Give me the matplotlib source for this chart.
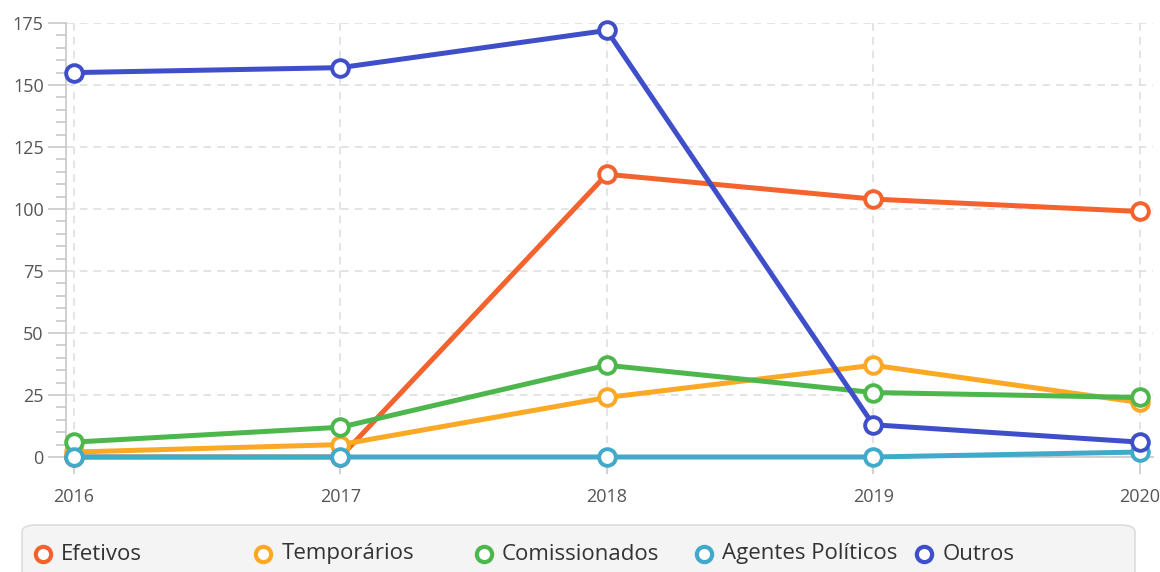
import matplotlib
matplotlib.use("Agg")
import matplotlib.pyplot as plt
from matplotlib.lines import Line2D
from matplotlib.patches import FancyBboxPatch
from matplotlib.ticker import MultipleLocator

years = [2016, 2017, 2018, 2019, 2020]
series_names = ["Efetivos", "Temporários", "Comissionados", "Agentes Políticos", "Outros"]
efetivos = [0, 0, 114, 104, 99]
temporarios = [2, 5, 24, 37, 22]
comissionados = [6, 12, 37, 26, 24]
agentes = [0, 0, 0, 0, 2]
outros = [155, 157, 172, 13, 6]
colors = ["#F4622D", "#FBA825", "#4DB74D", "#41A9C9", "#3F4FC9"]

plt.rcParams['font.family'] = ['Open Sans', 'DejaVu Sans']

fig = plt.figure(figsize=(11.6, 5.72), dpi=100)
W, H = 1160, 572
ax = fig.add_axes([66 / W, (H - 457) / H, (1153 - 66) / W, (457 - 23) / H])

data = [efetivos, temporarios, comissionados, agentes, outros]
for vals, c, name in zip(data, colors, series_names):
    ax.plot(years, vals, color=c, lw=3.6, marker='o', ms=12, mfc='white',
            mec=c, mew=2.8, clip_on=False, solid_capstyle='round', zorder=3, label=name)

ax.set_xlim(2015.97, 2020.05)
ax.set_ylim(0, 175)
ax.set_xticks(years)
ax.set_xticklabels([str(y) for y in years])
ax.yaxis.set_major_locator(MultipleLocator(25))
ax.yaxis.set_minor_locator(MultipleLocator(5))

for s in ['top', 'right']:
    ax.spines[s].set_visible(False)
for s in ['left', 'bottom']:
    ax.spines[s].set_color('#c8c8c8')
    ax.spines[s].set_linewidth(1.2)

ax.tick_params(axis='y', which='major', length=13, width=1.2, color='#c8c8c8',
               labelsize=13, labelcolor='#555555', pad=3)
ax.tick_params(axis='y', which='minor', length=7, width=1.2, color='#c8c8c8')
ax.tick_params(axis='x', which='major', length=12, width=1.2, color='#c8c8c8',
               labelsize=13, labelcolor='#555555', pad=10)

ax.grid(True, which='major', axis='both', color='#dddddd', linestyle=(0, (5, 4)), lw=1.1)
ax.set_axisbelow(True)

# legend box
box = FancyBboxPatch((22 / W, -0.05), (1135 - 22) / W, (H - 525) / H + 0.05,
                     boxstyle="round,pad=0,rounding_size=0.012",
                     transform=fig.transFigure, facecolor='#f4f4f4',
                     edgecolor='#dddddd', lw=1.2)
fig.add_artist(box)
step = 220.3
ly = (H - 554) / H
for i, (name, c) in enumerate(zip(series_names, colors)):
    mx = (43 + i * step) / W
    fig.add_artist(Line2D([mx], [ly], marker='o', ms=11, mfc='white', mec=c, mew=3,
                          transform=fig.transFigure))
    fig.text((61 + i * step) / W, ly, name, fontsize=16, color='#333333',
             va='center', ha='left')

fig.savefig("out.png", dpi=100)
